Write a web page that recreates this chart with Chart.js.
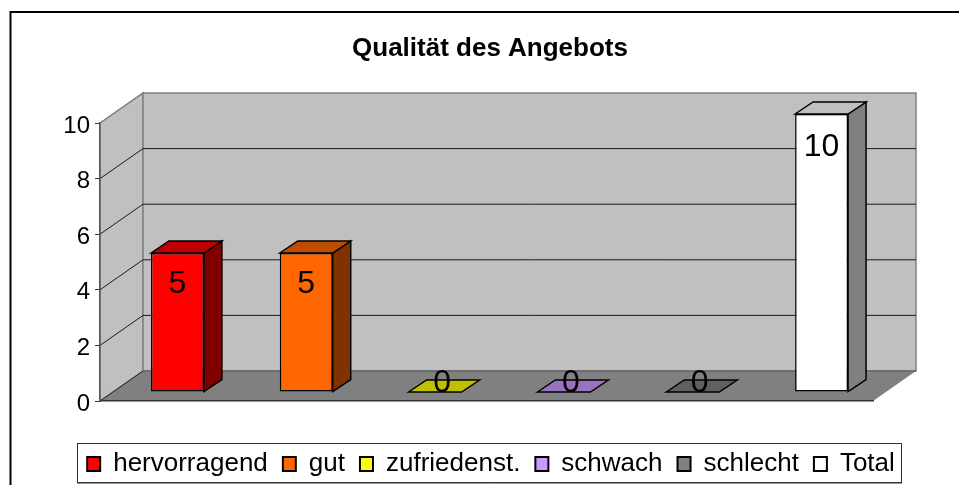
<!DOCTYPE html>
<html>
<head>
<meta charset="utf-8">
<style>html,body{margin:0;padding:0;background:#fff;overflow:hidden}canvas{display:block}</style>
<script src="https://cdn.jsdelivr.net/npm/chart.js@4"></script>
</head>
<body>
<canvas id="c" width="959" height="485"></canvas>
<script>
const categories = ['hervorragend','gut','zufriedenst.','schwach','schlecht','Total'];
const values = [5,5,0,0,0,10];
const yTicks = [0,2,4,6,8,10];
const frontColors = ['#ff0000','#ff6600','#ffff00','#cc99ff','#808080','#ffffff'];
const topColors = ['#c00000','#bf4d00','#c0c000','#9973bf','#606060','#c0c0c0'];
const sideColors = ['#800000','#803300','#808000','#664d80','#404040','#808080'];
const titleText = 'Qualität des Angebots';
const FONT = '"Liberation Sans", Arial, sans-serif';

const WALL = {dx:43, dy:-30};
const BAR_SHIFT = {dx:13, dy:-9};
const BAR_DEPTH = {dx:18, dy:-12};

function poly(ctx, pts, fill, stroke, lw){
  ctx.beginPath();
  pts.forEach((p,i)=> i?ctx.lineTo(p[0],p[1]):ctx.moveTo(p[0],p[1]));
  ctx.closePath();
  if(fill){ctx.fillStyle=fill;ctx.fill();}
  if(stroke){ctx.strokeStyle=stroke;ctx.lineWidth=lw;ctx.lineJoin='miter';ctx.stroke();}
}

const scene = {
  id:'scene',
  afterLayout(chart){
    chart.legend.left += 1; chart.legend.right += 1;
  },
  beforeDraw(chart){
    const ctx=chart.ctx, a=chart.chartArea, y=chart.scales.y;
    ctx.save();
    ctx.strokeStyle='#000'; ctx.lineWidth=2;
    ctx.strokeRect(10.5,12,1000,600);
    const L=a.left,R=a.right,T=y.getPixelForValue(10),B=y.getPixelForValue(0);
    const dx=WALL.dx,dy=WALL.dy;
    poly(ctx,[[L,T],[L+dx,T+dy],[L+dx,B+dy],[L,B]],'#c0c0c0','#808080',1.5);
    poly(ctx,[[L+dx,T+dy],[R+dx,T+dy],[R+dx,B+dy],[L+dx,B+dy]],'#c0c0c0','#808080',1.5);
    poly(ctx,[[L,B],[L+dx,B+dy],[R+dx,B+dy],[R,B]],'#808080',null,0);
    ctx.strokeStyle='#666'; ctx.lineWidth=1.5;
    ctx.beginPath();ctx.moveTo(L+dx,B+dy);ctx.lineTo(R+dx,B+dy);ctx.stroke();
    ctx.strokeStyle='#1a1a1a'; ctx.lineWidth=1;
    yTicks.forEach(v=>{
      if(v===0||v===10) return;
      const p=y.getPixelForValue(v);
      ctx.beginPath();ctx.moveTo(L,p);ctx.lineTo(L+dx,p+dy);ctx.lineTo(R+dx,p+dy);ctx.stroke();
    });
    ctx.strokeStyle='#808080';ctx.lineWidth=1;
    ctx.beginPath();ctx.moveTo(L,T);ctx.lineTo(L+dx,T+dy);ctx.stroke();
    ctx.strokeStyle='#222';
    ctx.beginPath();ctx.moveTo(L,B);ctx.lineTo(L+dx,B+dy);ctx.stroke();
    ctx.restore();
  },
  beforeDatasetsDraw(chart){
    const ctx=chart.ctx, meta=chart.getDatasetMeta(0);
    ctx.save();
    ctx.translate(BAR_SHIFT.dx,BAR_SHIFT.dy);
    meta.data.forEach((b,i)=>{
      const l=b.x-b.width/2,r=b.x+b.width/2,t=b.y,bot=b.base,dx=BAR_DEPTH.dx,dy=BAR_DEPTH.dy;
      if(values[i]>0) poly(ctx,[[r,t],[r+dx,t+dy],[r+dx,bot+dy],[r,bot]],sideColors[i],'#000',1.5);
      poly(ctx,[[l,t],[l+dx,t+dy],[r+dx,t+dy],[r,t]],topColors[i],'#000',1.5);
    });
  },
  afterDatasetsDraw(chart){
    const ctx=chart.ctx, meta=chart.getDatasetMeta(0);
    ctx.fillStyle='#000';
    ctx.font='32px '+FONT;
    ctx.textAlign='center';ctx.textBaseline='middle';
    meta.data.forEach((b,i)=>{
      const v=values[i];
      const ly=v>0 ? b.y+29+v*0.4 : b.y-9;
      const lx=v>0 ? b.x : b.x+7;
      ctx.fillText(String(v),lx,ly);
    });
    ctx.restore();
  },
  afterDraw(chart){
    const ctx=chart.ctx;
    ctx.save();
    ctx.strokeStyle='#333';ctx.lineWidth=1;
    ctx.strokeRect(77.5,443.5,824,39);
    ctx.strokeStyle='#999';
    ctx.beginPath();ctx.moveTo(77,483.5);ctx.lineTo(902,483.5);ctx.stroke();
    ctx.restore();
  }
};

new Chart(document.getElementById('c'),{
  type:'bar',
  data:{labels:categories,datasets:[{
    data:values,
    backgroundColor:frontColors,
    borderColor:'#000',
    borderWidth:1.5,
    borderSkipped:false,
    categoryPercentage:1,
    barPercentage:0.411,
    clip:false
  }]},
  plugins:[scene],
  options:{
    responsive:false,
    animation:false,
    layout:{padding:{left:21,right:0,top:0,bottom:-2}},
    plugins:{
      title:{display:true,text:titleText,color:'#000',
        font:{family:FONT,size:26,weight:'bold',lineHeight:1},
        padding:{top:36,bottom:61}},
      legend:{display:true,position:'bottom',
        onClick:null,
        labels:{
          color:'#000',
          font:{family:FONT,size:26,lineHeight:1},
          boxWidth:13,boxHeight:14,padding:15,
          generateLabels(){
            return categories.map((c,i)=>({text:c,fillStyle:frontColors[i],strokeStyle:'#000',lineWidth:2,hidden:false,index:i,fontColor:'#000'}));
          }
        }
      },
      tooltip:{enabled:false}
    },
    scales:{
      x:{
        type:'category',
        grid:{display:false},
        ticks:{display:false},
        border:{display:true,color:'#333',width:1.5},
        afterFit(s){s.height=35;}
      },
      y:{
        type:'linear',position:'left',min:0,max:10,
        ticks:{stepSize:2,color:'#000',padding:5,labelOffset:3,font:{family:FONT,size:24}},
        grid:{drawOnChartArea:false,drawTicks:true,tickLength:5,color:'#333',lineWidth:1},
        border:{display:true,color:'#555',width:1.5},
        afterFit(s){s.width=79;}
      },
      pad:{
        type:'linear',position:'right',min:0,max:1,
        ticks:{display:false},grid:{display:false},border:{display:false},
        afterFit(s){s.width=86;}
      }
    }
  }
});
</script>
</body>
</html>
